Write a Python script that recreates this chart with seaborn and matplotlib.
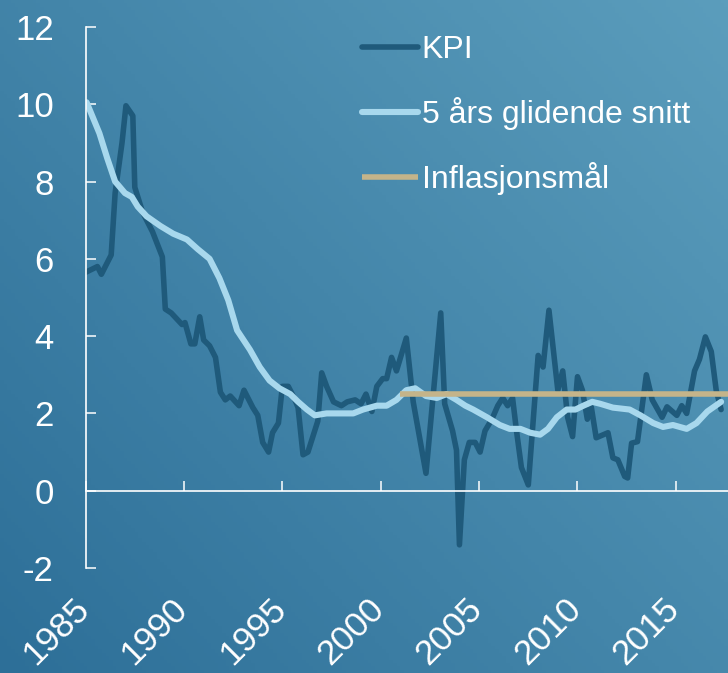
import numpy as np
import seaborn as sns
import matplotlib.pyplot as plt
from matplotlib.transforms import ScaledTranslation
from matplotlib.colors import LinearSegmentedColormap

# KPI (12-month change, %)
kpi_year = [1985.0, 1985.6, 1985.8, 1986.3, 1986.5, 1986.85, 1987.05, 1987.4,
            1987.5, 1987.9, 1988.4, 1988.9, 1989.05, 1989.35, 1989.9, 1990.05,
            1990.35, 1990.55, 1990.8, 1991.0, 1991.3, 1991.6, 1991.85, 1992.1,
            1992.35, 1992.8, 1993.05, 1993.5, 1993.75, 1994.0, 1994.3, 1994.5,
            1994.8, 1995.0, 1995.3, 1995.6, 1995.8, 1996.05, 1996.3, 1996.8,
            1997.0, 1997.25, 1997.6, 1998.0, 1998.3, 1998.7, 1999.0, 1999.25,
            1999.55, 1999.8, 2000.1, 2000.3, 2000.55, 2000.8, 2001.3, 2001.65,
            2002.3, 2003.05, 2003.25, 2003.65, 2003.85, 2004.0, 2004.25, 2004.5,
            2004.8, 2005.05, 2005.3, 2005.65, 2005.95, 2006.2, 2006.45, 2006.7,
            2006.9, 2007.15, 2007.5, 2008.0, 2008.25, 2008.55, 2009.0, 2009.25,
            2009.5, 2009.75, 2010.0, 2010.25, 2010.5, 2010.7, 2010.95, 2011.55,
            2011.8, 2012.05, 2012.4, 2012.55, 2012.75, 2013.05, 2013.5, 2013.8,
            2014.3, 2014.55, 2015.05, 2015.3, 2015.55, 2015.95, 2016.2, 2016.5,
            2016.8, 2017.05, 2017.3]
kpi_value = [5.65, 5.8, 5.6, 6.1, 7.7, 9.0, 9.96, 9.7,
             7.85, 7.2, 6.7, 6.05, 4.7, 4.6, 4.3, 4.35,
             3.8, 3.8, 4.5, 3.9, 3.75, 3.45, 2.55, 2.35,
             2.45, 2.2, 2.6, 2.15, 1.95, 1.25, 1.0, 1.5,
             1.75, 2.7, 2.7, 2.4, 2.15, 0.93, 1.0, 1.8,
             3.05, 2.7, 2.3, 2.2, 2.3, 2.35, 2.25, 2.5,
             2.05, 2.7, 2.9, 2.9, 3.45, 3.1, 3.95, 2.3,
             0.45, 4.6, 2.25, 1.55, 1.05, -1.4, 0.8, 1.25,
             1.25, 1.0, 1.55, 1.85, 2.2, 2.4, 2.2, 2.4,
             1.55, 0.6, 0.15, 3.5, 3.2, 4.67, 2.6, 3.1,
             1.9, 1.4, 2.95, 2.6, 1.85, 2.17, 1.37, 1.5,
             0.85, 0.8, 0.37, 0.33, 1.23, 1.27, 3.0, 2.35,
             1.9, 2.17, 1.95, 2.2, 2.0, 3.1, 3.4, 3.98,
             3.6, 2.6, 2.1]

# 5-year moving average
snitt_year = [1985.05, 1985.7, 1986.1, 1986.5, 1987.0, 1987.35, 1987.65, 1988.1,
              1988.8, 1989.45, 1990.15, 1990.7, 1991.3, 1991.8, 1992.25, 1992.7,
              1993.35, 1993.85, 1994.35, 1994.85, 1995.4, 1995.8, 1996.25,
              1996.65, 1997.25, 1997.9, 1998.6, 1999.1, 1999.8, 2000.3, 2000.8,
              2001.3, 2001.75, 2002.3, 2002.85, 2003.35, 2003.85, 2004.3,
              2004.7, 2005.4, 2006.05, 2006.55, 2007.1, 2007.6, 2008.1, 2008.5,
              2008.95, 2009.45, 2009.9, 2010.3, 2010.75, 2011.15, 2011.8,
              2012.65, 2013.2, 2013.85, 2014.35, 2014.85, 2015.55, 2016.05,
              2016.6, 2017.3]
snitt_value = [10.05, 9.25, 8.6, 8.0, 7.7, 7.6, 7.35, 7.1,
               6.85, 6.65, 6.5, 6.25, 6.0, 5.5, 4.93, 4.15,
               3.65, 3.2, 2.85, 2.65, 2.5, 2.3, 2.1,
               1.95, 2.0, 2.0, 2.0, 2.1, 2.2, 2.2, 2.35,
               2.6, 2.65, 2.45, 2.4, 2.5, 2.35, 2.2,
               2.1, 1.9, 1.7, 1.6, 1.6, 1.5, 1.45, 1.6,
               1.9, 2.1, 2.1, 2.2, 2.3, 2.25, 2.15,
               2.1, 1.95, 1.75, 1.65, 1.7, 1.6, 1.75,
               2.05, 2.3]

# inflation target
maal_year = [2001.0, 2018.0]
maal_value = [2.5, 2.5]

x_ticks = [1985, 1990, 1995, 2000, 2005, 2010, 2015]
y_ticks = [-2, 0, 2, 4, 6, 8, 10, 12]

sns.set_theme(style='white')
plt.rcParams['font.family'] = ['Liberation Sans', 'DejaVu Sans']
plt.rcParams['axes.unicode_minus'] = False

fig = plt.figure(figsize=(7.28, 6.73), dpi=100)

# gradient background
bg = fig.add_axes([0, 0, 1, 1], zorder=-1)
cmap = LinearSegmentedColormap.from_list('bg', ['#2d6f98', '#5b9dbc'])
gx, gy = np.meshgrid(np.linspace(0, 1, 200), np.linspace(0, 1, 200))
bg.imshow(0.55 * gx + 0.45 * gy, cmap=cmap, origin='lower', aspect='auto',
          extent=[0, 1, 0, 1])
bg.axis('off')

ax = fig.add_axes([0.1176, 0.156, 0.8824, 0.804])
ax.set_facecolor('none')

sns.lineplot(x=kpi_year, y=kpi_value, ax=ax, color='#1f5a7b', linewidth=4.0,
             label='KPI', solid_capstyle='round')
sns.lineplot(x=snitt_year, y=snitt_value, ax=ax, color='#a8d8ed',
             linewidth=4.4, label='5 års glidende snitt', solid_capstyle='round')
sns.lineplot(x=maal_year, y=maal_value, ax=ax, color='#c4b48a', linewidth=4.0,
             label='Inflasjonsmål', solid_capstyle='butt')

ax.set_xlim(1985, 2017.65)
ax.set_ylim(-2, 12)
ax.set_xticks(x_ticks)
ax.set_yticks(y_ticks)
ax.set_xlabel('')
ax.set_ylabel('')

for s in ['top', 'right']:
    ax.spines[s].set_visible(False)
ax.spines['bottom'].set_position(('data', 0))
for s in ['left', 'bottom']:
    ax.spines[s].set_color('white')
    ax.spines[s].set_linewidth(1.2)

ax.tick_params(axis='both', direction='in', length=7.5, width=1.1,
               bottom=True, left=True,
               color='white', labelcolor='white', labelsize=25)
ax.tick_params(axis='x', labelsize=25.5)
ax.tick_params(axis='y', pad=23)
ax.tick_params(axis='x', pad=73)
for lab in ax.get_xticklabels():
    lab.set_rotation(45)
    lab.set_ha('right')
    lab.set_va('top')
    lab.set_transform(lab.get_transform() +
                      ScaledTranslation(0.10, 0, fig.dpi_scale_trans))

leg = ax.legend(loc='upper left', bbox_to_anchor=(0.497, 0.948),
                bbox_transform=fig.transFigure, frameon=False, fontsize=23,
                handlelength=1.75, handletextpad=0.12, labelspacing=1.0,
                borderpad=0, borderaxespad=0)
for t in leg.get_texts():
    t.set_color('white')

fig.savefig('out.png', dpi=100)
